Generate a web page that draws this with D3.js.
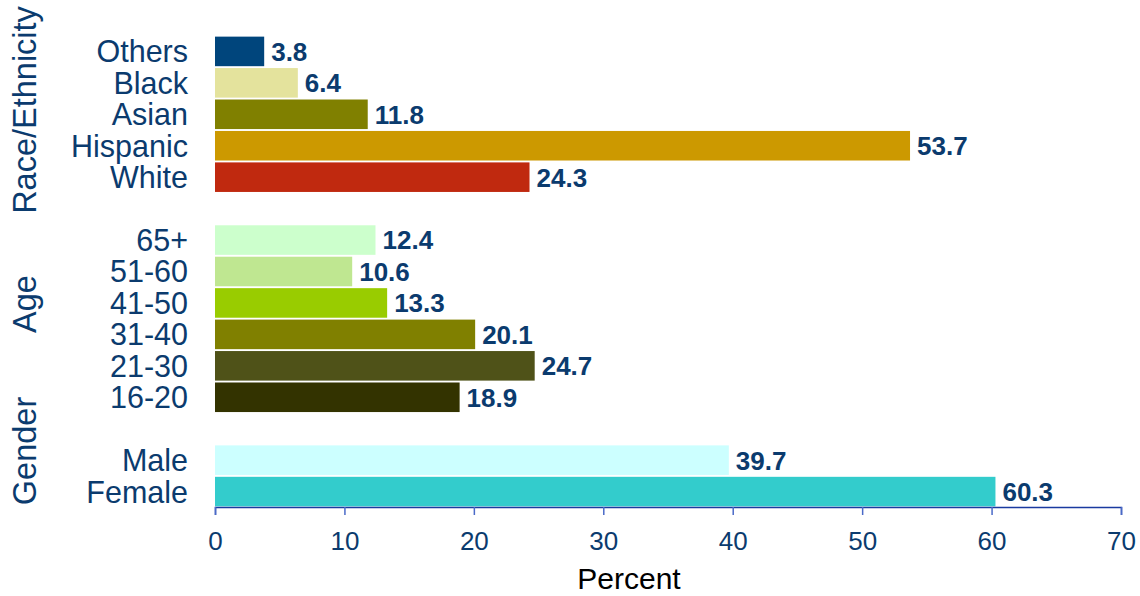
<!DOCTYPE html>
<html>
<head>
<meta charset="utf-8">
<script src="https://cdn.jsdelivr.net/npm/d3@7"></script>
<style>
  html, body { margin: 0; padding: 0; background: #fff; }
  svg { display: block; font-family: "Liberation Sans", Arial, sans-serif; }
</style>
</head>
<body>
<svg id="chart" width="1140" height="596"></svg>
<script>
// Category rows, top to bottom; blank entries mark spacer rows between groups
const categories = ["Others", "Black", "Asian", "Hispanic", "White", "",
                    "65+", "51-60", "41-50", "31-40", "21-30", "16-20", " ",
                    "Male", "Female"];
const values = [3.8, 6.4, 11.8, 53.7, 24.3, null,
                12.4, 10.6, 13.3, 20.1, 24.7, 18.9, null,
                39.7, 60.3];
const barColors = ["#00457c", "#e4e39d", "#808000", "#cc9900", "#c0290f", null,
                   "#ccffcc", "#bfe791", "#99cc00", "#808000", "#4f5218", "#333300", null,
                   "#ccffff", "#33cccc"];
const groups = ["Race/Ethnicity", "Age", "Gender"];
const groupCenters = [110, 304, 451];
const xTicks = [0, 10, 20, 30, 40, 50, 60, 70];
const xTitle = "Percent";

const navy = "#0b3b6e";
const svg = d3.select("#chart");

const x = d3.scaleLinear().domain([0, 70]).range([215, 1121]);
const y = d3.scaleBand().domain(categories).range([36, 507]).paddingInner(0.06).paddingOuter(0.02);

const rows = categories.map((c, i) => ({ cat: c, value: values[i], color: barColors[i] }))
  .filter(d => d.value !== null);

// Bars
svg.append("g").selectAll("rect").data(rows).join("rect")
  .attr("x", x(0))
  .attr("y", d => y(d.cat))
  .attr("width", d => x(d.value) - x(0))
  .attr("height", y.bandwidth())
  .attr("fill", d => d.color);

// Value labels
svg.append("g").selectAll("text").data(rows).join("text")
  .attr("x", d => x(d.value) + 7)
  .attr("y", d => y(d.cat) + y.bandwidth() / 2)
  .attr("dy", "0.36em")
  .attr("font-size", 26)
  .attr("font-weight", "bold")
  .attr("fill", navy)
  .text(d => d.value.toFixed(1));

// Category labels
const yAxis = svg.append("g")
  .attr("transform", `translate(${x(0)},0)`)
  .call(d3.axisLeft(y).tickSize(0).tickPadding(27));
yAxis.select(".domain").remove();
yAxis.selectAll(".tick").filter(d => d.trim() === "").remove();
yAxis.selectAll("text")
  .attr("font-size", 30.5)
  .attr("font-family", "'Liberation Sans', Arial, sans-serif")
  .attr("fill", navy)
  .attr("dy", "0.36em");

// Group labels (rotated)
svg.append("g").selectAll("text").data(groups).join("text")
  .attr("transform", (d, i) => `translate(36,${groupCenters[i]}) rotate(-90)`)
  .attr("text-anchor", "middle")
  .attr("font-size", 32.5)
  .attr("fill", navy)
  .text(d => d);

// X axis
const xAxis = svg.append("g")
  .attr("transform", "translate(0,507)")
  .call(d3.axisBottom(x).tickValues(xTicks).tickSize(8).tickPadding(17));
xAxis.select(".domain").attr("stroke", "#1a3aa0").attr("stroke-width", 1.5);
xAxis.selectAll(".tick line").attr("stroke", "#4a6ac8").attr("stroke-width", 1.5);
xAxis.selectAll(".tick text")
  .attr("font-size", 26)
  .attr("font-family", "'Liberation Sans', Arial, sans-serif")
  .attr("fill", navy);

// X axis title
svg.append("text")
  .attr("x", 629)
  .attr("y", 589)
  .attr("text-anchor", "middle")
  .attr("font-size", 30)
  .attr("fill", "#000")
  .text(xTitle);
</script>
</body>
</html>
